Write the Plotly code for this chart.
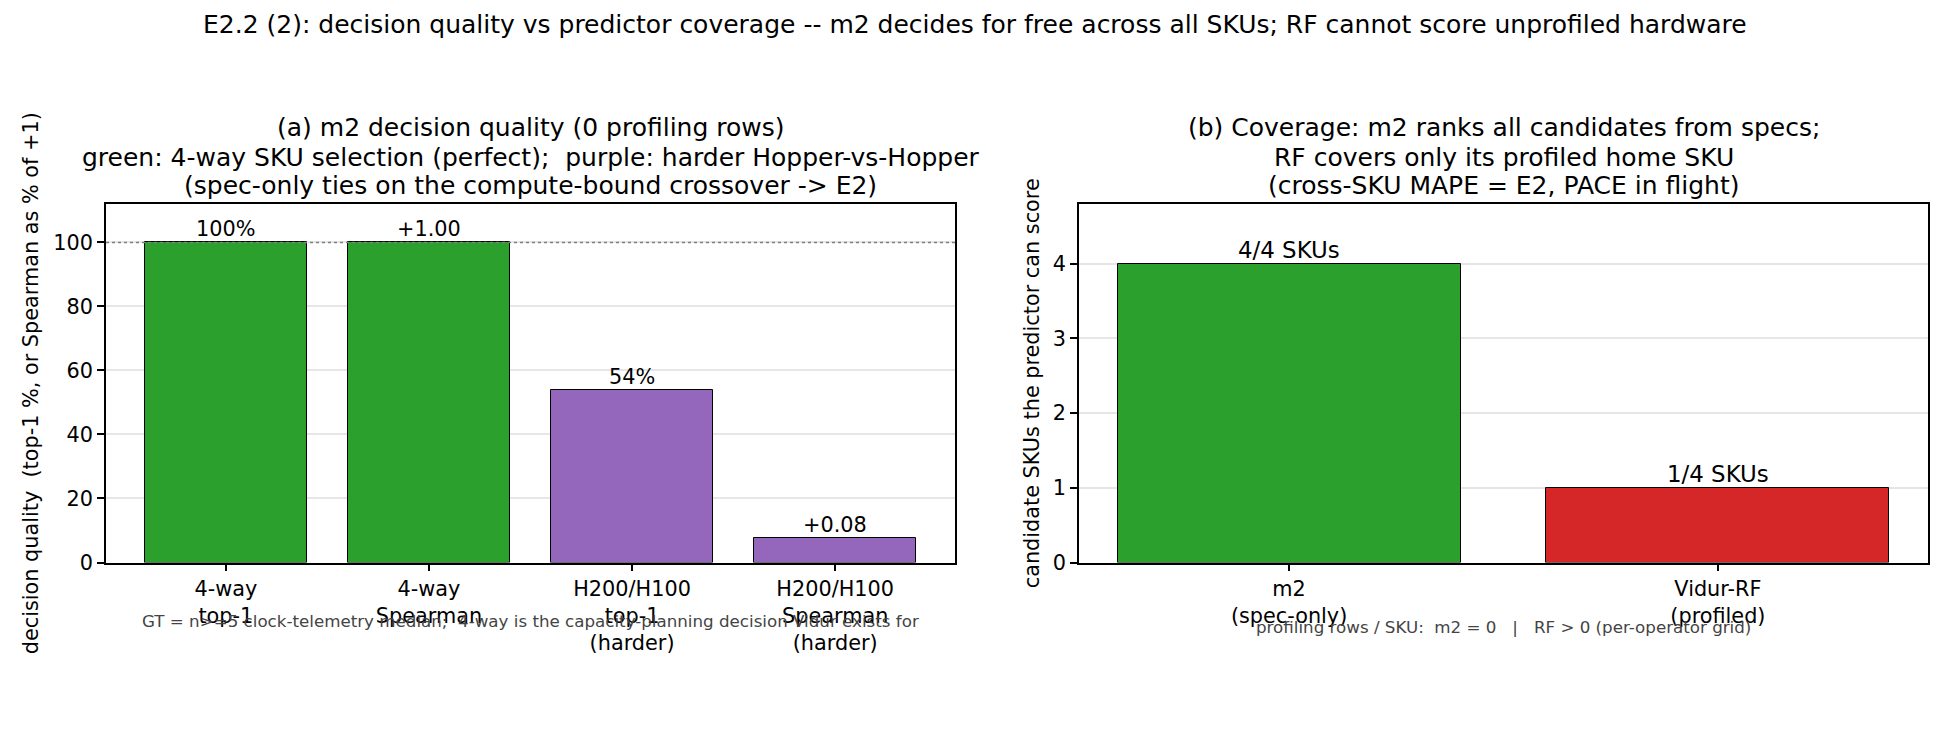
import plotly.graph_objects as go

W, H = 1950, 750
FONT = "DejaVu Sans"

# ---------------- data ----------------
left_cats = ["4-way<br>top-1", "4-way<br>Spearman",
             "H200/H100<br>top-1<br>(harder)", "H200/H100<br>Spearman<br>(harder)"]
left_vals = [100.0, 100.0, 53.8, 7.6]
left_labels = ["100%", "+1.00", "54%", "+0.08"]
left_colors = ["#2ca02c", "#2ca02c", "#9467bd", "#9467bd"]
ref_line = 100

right_cats = ["m2<br>(spec-only)", "Vidur-RF<br>(profiled)"]
right_vals = [4, 1]
right_labels = ["4/4 SKUs", "1/4 SKUs"]
right_colors = ["#2ca02c", "#d62728"]

suptitle = ("E2.2 (2): decision quality vs predictor coverage -- m2 decides for free "
            "across all SKUs; RF cannot score unprofiled hardware")
left_title = ["(a) m2 decision quality (0 profiling rows)",
              "green: 4-way SKU selection (perfect);  purple: harder Hopper-vs-Hopper",
              "(spec-only ties on the compute-bound crossover -> E2)"]
right_title = ["(b) Coverage: m2 ranks all candidates from specs;",
               "RF covers only its profiled home SKU",
               "(cross-SKU MAPE = E2, PACE in flight)"]
left_ylabel = "decision quality  (top-1 %, or Spearman as % of +1)"
right_ylabel = "candidate SKUs the predictor can score"
left_note = "GT = n>=5 clock-telemetry median;  4-way is the capacity-planning decision Vidur exists for"
right_note = "profiling rows / SKU:  m2 = 0   |   RF > 0 (per-operator grid)"


def px_x(p):
    return p / W


def px_y(p):
    return 1 - p / H


L0, L1 = px_x(106), px_x(955)
R0, R1 = px_x(1079), px_x(1928)
B, T = px_y(562.5), px_y(204)

fig = go.Figure()
fig.add_trace(go.Bar(x=list(range(len(left_vals))), y=left_vals, width=0.8,
                     marker=dict(color=left_colors, line=dict(color="black", width=1)),
                     xaxis="x", yaxis="y", showlegend=False, hoverinfo="skip"))
fig.add_trace(go.Bar(x=list(range(len(right_vals))), y=right_vals, width=0.8,
                     marker=dict(color=right_colors, line=dict(color="black", width=1)),
                     xaxis="x2", yaxis="y2", showlegend=False, hoverinfo="skip"))

axis_common = dict(showline=True, linecolor="black", linewidth=1.7, mirror=True,
                   ticks="outside", ticklen=7, tickwidth=1.5, tickcolor="black",
                   tickfont=dict(family=FONT, size=20.8, color="black"),
                   zeroline=False, automargin=False)

fig.update_layout(
    width=W, height=H, margin=dict(l=0, r=0, t=0, b=0, autoexpand=False),
    paper_bgcolor="white", plot_bgcolor="white",
    font=dict(family=FONT, color="black"),
    bargap=0,
    xaxis=dict(domain=[L0, L1], range=[-0.59, len(left_vals) - 1 + 0.59],
               tickmode="array", tickvals=list(range(len(left_cats))), ticktext=left_cats,
               showgrid=False, anchor="y", **axis_common),
    yaxis=dict(domain=[B, T], range=[0, 112], tickmode="array",
               tickvals=[0, 20, 40, 60, 80, 100],
               showgrid=True, gridcolor="#e6e6e6", gridwidth=1.5, anchor="x",
               **axis_common),
    xaxis2=dict(domain=[R0, R1], range=[-0.49, len(right_vals) - 1 + 0.49],
                tickmode="array", tickvals=list(range(len(right_cats))), ticktext=right_cats,
                showgrid=False, anchor="y2", **axis_common),
    yaxis2=dict(domain=[B, T], range=[0, 4.8], tickmode="array",
                tickvals=[0, 1, 2, 3, 4],
                showgrid=True, gridcolor="#e6e6e6", gridwidth=1.5, anchor="x2",
                **axis_common),
)

# reference dotted line at +1 / 100 %
fig.add_shape(type="line", xref="x domain", yref="y", x0=0, x1=1, y0=ref_line, y1=ref_line,
              line=dict(color="#808080", width=1.5, dash="dot"), layer="above")

ann = []
# bar value labels
for i, (v, t) in enumerate(zip(left_vals, left_labels)):
    ann.append(dict(x=i, y=v, xref="x", yref="y", text=t, showarrow=False,
                    yanchor="bottom", yshift=-1, font=dict(family=FONT, size=20.8, color="black")))
for i, (v, t) in enumerate(zip(right_vals, right_labels)):
    ann.append(dict(x=i, y=v, xref="x2", yref="y2", text=t, showarrow=False,
                    yanchor="bottom", yshift=-1, font=dict(family=FONT, size=22.9, color="black")))

# suptitle
ann.append(dict(x=0.5, y=px_y(25), xref="paper", yref="paper", text=suptitle, showarrow=False,
                xanchor="center", yanchor="middle", font=dict(family=FONT, size=25, color="black")))
# panel titles (one annotation per line)
for k, yy in enumerate([128, 157, 185]):
    ann.append(dict(x=(L0 + L1) / 2, y=px_y(yy), xref="paper", yref="paper", text=left_title[k],
                    showarrow=False, xanchor="center", yanchor="middle",
                    font=dict(family=FONT, size=25, color="black")))
    ann.append(dict(x=(R0 + R1) / 2, y=px_y(yy), xref="paper", yref="paper", text=right_title[k],
                    showarrow=False, xanchor="center", yanchor="middle",
                    font=dict(family=FONT, size=25, color="black")))
# y labels
ann.append(dict(x=px_x(31), y=(B + T) / 2, xref="paper", yref="paper", text=left_ylabel,
                textangle=-90, showarrow=False, xanchor="center", yanchor="middle",
                font=dict(family=FONT, size=20.8, color="black")))
ann.append(dict(x=px_x(1032), y=(B + T) / 2, xref="paper", yref="paper", text=right_ylabel,
                textangle=-90, showarrow=False, xanchor="center", yanchor="middle",
                font=dict(family=FONT, size=20.8, color="black")))
# footnotes
ann.append(dict(x=(L0 + L1) / 2, y=px_y(620.5), xref="paper", yref="paper", text=left_note,
                showarrow=False, xanchor="center", yanchor="middle",
                font=dict(family=FONT, size=16.7, color="#444444")))
ann.append(dict(x=(R0 + R1) / 2, y=px_y(627), xref="paper", yref="paper", text=right_note,
                showarrow=False, xanchor="center", yanchor="middle",
                font=dict(family=FONT, size=16.7, color="#444444")))

fig.update_layout(annotations=ann)
fig.write_html("out.html")
